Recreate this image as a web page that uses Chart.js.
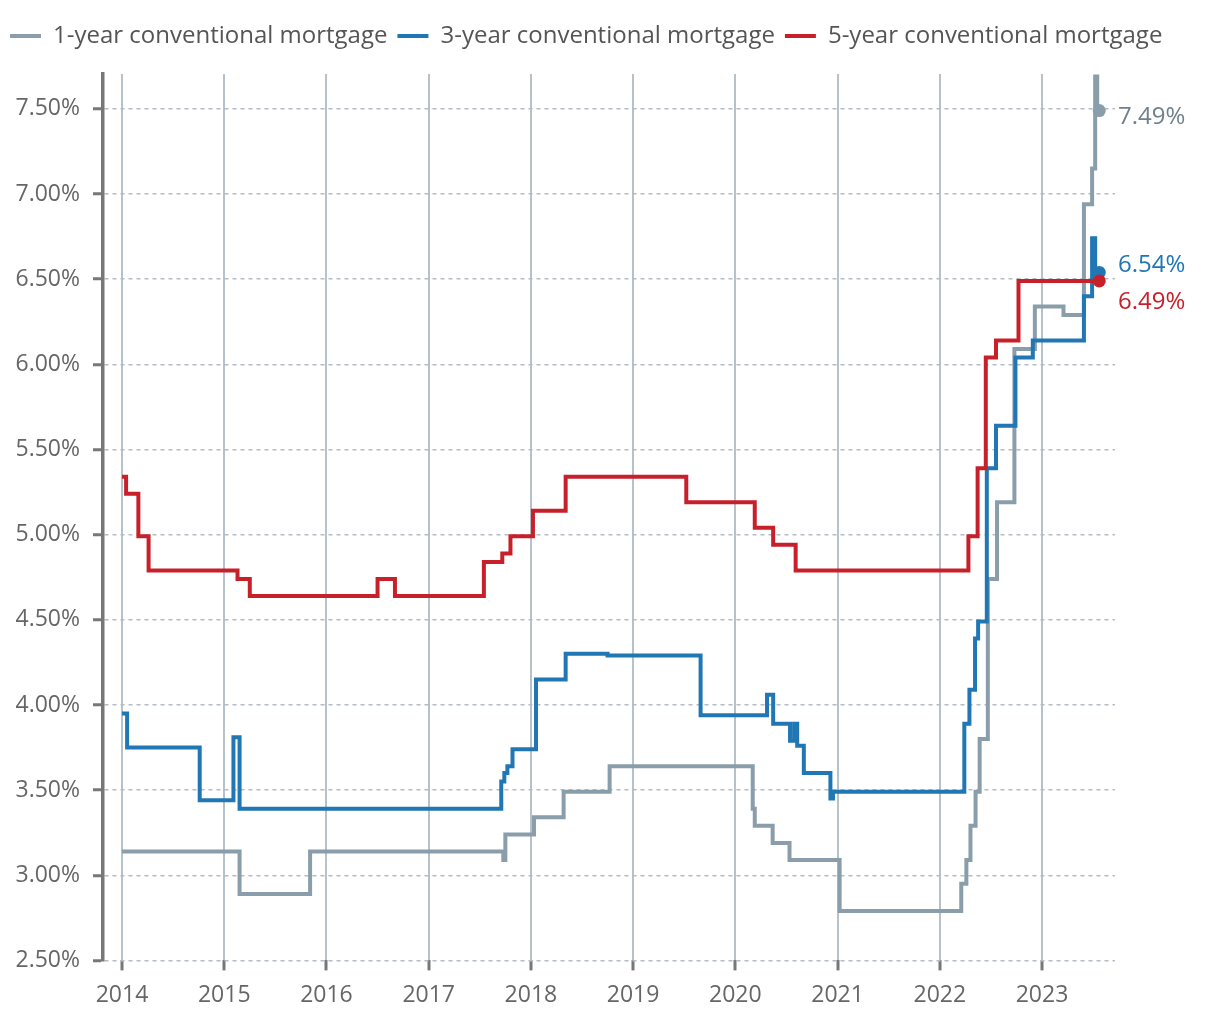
<!DOCTYPE html>
<html lang="en">
<head>
    <meta charset="UTF-8">
    <title>Conventional mortgage rates</title>
    <script src="https://cdn.jsdelivr.net/npm/chart.js"></script>
    <style>
        body {
            margin: 0;
            background-color: white;
        }
        .wrap {
            width: 1220px;
            height: 1020px;
            position: relative;
        }
    </style>
</head>
<body>
    <div class="wrap">
        <canvas id="mortgageChart"></canvas>
    </div>
    <script>
        // dates are decimal years, each rate holds until the next date
        const years = [2014, 2015, 2016, 2017, 2018, 2019, 2020, 2021, 2022, 2023];
        const yTicks = [2.5, 3, 3.5, 4, 4.5, 5, 5.5, 6, 6.5, 7, 7.5];

        const oneYearDates = [2014.00, 2015.15, 2015.84, 2017.73, 2017.75, 2018.03, 2018.32, 2018.77, 2020.17, 2020.19,
            2020.365, 2020.53, 2021.02, 2022.21, 2022.26, 2022.30, 2022.35, 2022.39, 2022.47, 2022.56,
            2022.73, 2022.93, 2023.21, 2023.41, 2023.49, 2023.52, 2023.54, 2023.56];
        const oneYearRates = [3.14, 2.89, 3.14, 3.09, 3.24, 3.34, 3.49, 3.64, 3.39, 3.29,
            3.19, 3.09, 2.79, 2.95, 3.09, 3.29, 3.49, 3.80, 4.74, 5.19,
            6.09, 6.34, 6.29, 6.94, 7.15, 7.69, 7.49, 7.49];

        const threeYearDates = [2014.00, 2014.05, 2014.76, 2015.09, 2015.15, 2017.71, 2017.74, 2017.77, 2017.82, 2018.05,
            2018.34, 2018.75, 2019.66, 2020.31, 2020.37, 2020.535, 2020.575, 2020.605, 2020.67, 2020.93,
            2020.955, 2022.24, 2022.29, 2022.345, 2022.375, 2022.46, 2022.55, 2022.74, 2022.91, 2023.41,
            2023.49, 2023.52, 2023.56];
        const threeYearRates = [3.95, 3.75, 3.44, 3.81, 3.39, 3.55, 3.60, 3.64, 3.74, 4.15,
            4.30, 4.29, 3.94, 4.06, 3.89, 3.79, 3.89, 3.76, 3.60, 3.45,
            3.49, 3.89, 4.09, 4.39, 4.49, 5.39, 5.64, 6.04, 6.14, 6.40,
            6.74, 6.54, 6.54];

        const fiveYearDates = [2014.00, 2014.04, 2014.16, 2014.26, 2015.13, 2015.25, 2016.50, 2016.67, 2017.54, 2017.72,
            2017.80, 2018.02, 2018.34, 2019.52, 2020.19, 2020.37, 2020.59, 2022.28, 2022.37, 2022.45,
            2022.55, 2022.77, 2023.56];
        const fiveYearRates = [5.34, 5.24, 4.99, 4.79, 4.74, 4.64, 4.74, 4.64, 4.84, 4.89,
            4.99, 5.14, 5.34, 5.19, 5.04, 4.94, 4.79, 4.99, 5.39, 6.04,
            6.14, 6.49, 6.49];

        const seriesNames = ["1-year conventional mortgage", "3-year conventional mortgage", "5-year conventional mortgage"];
        const seriesColors = ["#8a9dab", "#2077b4", "#c8202b"];
        const labelColors = ["#6f808d", "#2077b4", "#c8202b"];

        const FONT = "'Open Sans', sans-serif";

        function toPoints(dates, rates) {
            return dates.map((d, i) => ({ x: d, y: rates[i] }));
        }

        function lastDot(ctx) {
            return ctx.dataIndex === ctx.dataset.data.length - 1 ? 6.5 : 0;
        }

        function makeDataset(i, dates, rates, order) {
            return {
                label: seriesNames[i],
                data: toPoints(dates, rates),
                borderColor: seriesColors[i],
                backgroundColor: seriesColors[i],
                borderWidth: 4,
                stepped: "before",
                pointRadius: lastDot,
                pointHoverRadius: lastDot,
                pointBorderWidth: 0,
                order: order
            };
        }

        // extra gap under the legend
        const legendGap = {
            id: "legendGap",
            beforeLayout(chart) {
                const legend = chart.legend;
                if (!legend || legend._gapPatched) return;
                const fit = legend.fit;
                legend.fit = function () {
                    fit.call(this);
                    this.height += 16;
                };
                legend._gapPatched = true;
            }
        };

        // value labels to the right of the last point
        const endLabels = {
            id: "endLabels",
            afterDatasetsDraw(chart) {
                const ctx = chart.ctx;
                const items = chart.data.datasets.map((ds, i) => {
                    const pts = chart.getDatasetMeta(i).data;
                    const last = pts[pts.length - 1];
                    return { y: last.y + 7, x: chart.chartArea.right + 3, text: ds.data[ds.data.length - 1].y.toFixed(2) + "%", color: labelColors[i] };
                }).sort((a, b) => a.y - b.y);
                const gap = 37;
                for (let k = 1; k < items.length; k++) {
                    const prev = items[k - 1], cur = items[k];
                    if (cur.y - prev.y < gap) {
                        const mid = (cur.y + prev.y) / 2;
                        prev.y = mid - gap / 2;
                        cur.y = mid + gap / 2;
                    }
                }
                ctx.save();
                ctx.font = "24px " + FONT;
                ctx.textBaseline = "middle";
                ctx.textAlign = "left";
                items.forEach(it => {
                    ctx.fillStyle = it.color;
                    ctx.fillText(it.text, it.x, it.y);
                });
                ctx.restore();
            }
        };

        const ctx = document.getElementById("mortgageChart").getContext("2d");
        new Chart(ctx, {
            type: "line",
            data: {
                datasets: [
                    makeDataset(0, oneYearDates, oneYearRates, 3),
                    makeDataset(1, threeYearDates, threeYearRates, 2),
                    makeDataset(2, fiveYearDates, fiveYearRates, 1)
                ]
            },
            options: {
                responsive: true,
                maintainAspectRatio: false,
                animation: false,
                layout: {
                    padding: { left: 0, right: 0, top: 14, bottom: 0 }
                },
                plugins: {
                    tooltip: { enabled: false },
                    legend: {
                        align: "start",
                        labels: {
                            boxWidth: 31,
                            boxHeight: 4,
                            padding: 10,
                            color: "#555",
                            font: { family: FONT, size: 24 },
                            sort: (a, b) => a.datasetIndex - b.datasetIndex,
                            generateLabels(chart) {
                                return Chart.defaults.plugins.legend.labels.generateLabels(chart)
                                    .map(l => Object.assign(l, { lineWidth: 0 }));
                            }
                        }
                    }
                },
                scales: {
                    x: {
                        type: "linear",
                        min: 2013.814,
                        max: 2023.714,
                        afterBuildTicks: scale => { scale.ticks = years.map(v => ({ value: v })); },
                        grid: {
                            color: "#b7c1c9",
                            lineWidth: 2,
                            tickColor: "#777",
                            tickWidth: 3,
                            tickLength: 10
                        },
                        border: { display: false },
                        ticks: {
                            color: "#666",
                            padding: 11,
                            maxRotation: 0,
                            font: { family: FONT, size: 23 },
                            callback: v => String(v)
                        }
                    },
                    y: {
                        min: 2.5,
                        max: 7.705,
                        afterBuildTicks: scale => { scale.ticks = yTicks.map(v => ({ value: v })); },
                        afterFit: scale => { scale.width = 103; },
                        grid: {
                            color: "#b4bcc3",
                            lineWidth: 1.5,
                            tickColor: "#777",
                            tickWidth: 3,
                            tickLength: 10
                        },
                        border: { display: true, color: "#777", width: 3.5, dash: [4, 4] },
                        ticks: {
                            color: "#666",
                            padding: 13,
                            font: { family: FONT, size: 23 },
                            callback: v => v.toFixed(2) + "%"
                        }
                    },
                    // empty right axis keeps room for the end labels
                    yRight: {
                        position: "right",
                        min: 2.5,
                        max: 7.705,
                        grid: { display: false },
                        border: { display: false },
                        ticks: { display: false },
                        afterFit: scale => { scale.width = 105; }
                    }
                }
            },
            plugins: [legendGap, endLabels]
        });
    </script>
</body>
</html>
